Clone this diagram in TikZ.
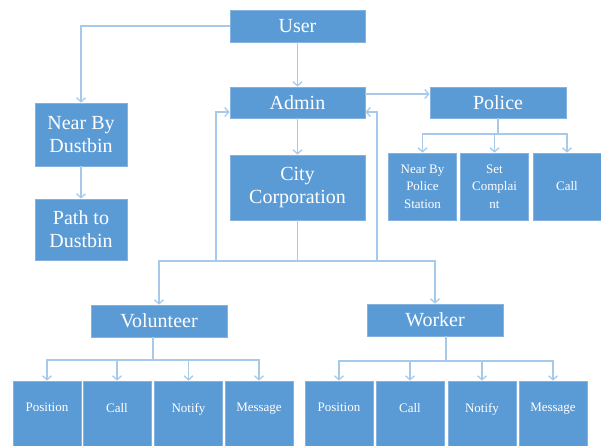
\documentclass[tikz,border=0pt]{standalone}
\usepackage{fontspec}
\setmainfont{Liberation Serif}
\usepackage{tikz}
\usetikzlibrary{arrows.meta,calc,positioning}
\definecolor{boxblue}{HTML}{5B9BD5}
\definecolor{boxedge}{HTML}{86B2E0}
\definecolor{linkblue}{HTML}{A7CAEB}
\tikzset{
  box/.style={draw=boxedge,line width=0.8pt,fill=boxblue,text=white,align=center,inner sep=0pt,font=\fontsize{20}{23}\selectfont},
  subbox/.style={box,font=\fontsize{13}{17.5}\selectfont,minimum width=68pt,minimum height=67pt},
  leaf/.style={subbox,minimum height=66pt,text depth=13pt},
  bus/.style={draw=linkblue,line width=1.3pt},
  link/.style={bus,-{Straight Barb[length=4pt,width=9pt]}},
}

\begin{document}
\begin{tikzpicture}[x=1pt,y=-1pt]
\useasboundingbox (0,0) rectangle (601,445);
% top row
\node[box,minimum width=135pt,minimum height=32pt] (user) at (297.5,26) {User};
\node[box,minimum width=135pt,minimum height=31pt] (admin) at (297.5,102.5) {Admin};
\node[box,minimum width=136pt,minimum height=31pt] (police) at (498,102.5) {Police};
\node[box,minimum width=135pt,minimum height=65pt] (city) at (297.5,187.5) {City\\Corporation};
\node[box,minimum width=92pt,minimum height=63pt] (ndust) at (81,134.5) {Near By\\Dustbin};
\node[box,minimum width=92pt,minimum height=61pt] (path) at (81,229.5) {Path to\\Dustbin};
% police side
\node[subbox] (pnear) at (422.5,186.5) {Near By\\Police\\Station};
\node[subbox] (pcompl) at (494.5,186.5) {Set\\Complai\\nt};
\node[subbox] (pcall) at (567,186.5) {Call};
% volunteer and worker
\node[box,minimum width=136pt,minimum height=32pt] (vol) at (159,321) {Volunteer};
\node[box,minimum width=136pt,minimum height=32pt] (wrk) at (435,320) {Worker};
\node[leaf] (vpos) at (47,414) {Position};
\node[leaf] (vcall) at (117,414) {Call};
\node[leaf] (vnot) at (188.5,414) {Notify};
\node[leaf] (vmsg) at (259,414) {Message};
\node[leaf] (wpos) at (339,414) {Position};
\node[leaf] (wcall) at (410,414) {Call};
\node[leaf] (wnot) at (482,414) {Notify};
\node[leaf] (wmsg) at (553,414) {Message};
% junctions
\coordinate (cj) at (297.5,261);
\coordinate (fl) at (216,261);
\coordinate (fr) at (377,261);
\coordinate (pj) at (498,134);
\coordinate (vj) at (153,360);
\coordinate (wj) at (446,361);
% connectors
\draw[link] (user.west) -| (ndust.north);
\draw[link] (user.south) -- (admin.north);
\draw[link] (ndust.south) -- (path.north);
\draw[link] (admin.south) -- (city.north);
\draw[link] ([yshift=8.5pt]admin.east) -- ([yshift=8.5pt]police.west);
\draw[bus] (city.south) -- (cj);
\draw[link] (cj) -| (vol.north);
\draw[link] (cj) -| (wrk.north);
\draw[link] (fl) |- ([yshift=-9.5pt]admin.west);
\draw[link] (fr) |- ([yshift=-9.5pt]admin.east);
\draw[bus] (police.south) -- (pj);
\draw[link] (pj) -| (pnear.north);
\draw[link] (pj) -| (pcompl.north);
\draw[link] (pj) -| (pcall.north);
\draw[bus] (vol.south -| vj) -- (vj);
\draw[link] (vj) -| (vpos.north);
\draw[link] (vj) -| (vcall.north);
\draw[link] (vj) -| (vnot.north);
\draw[link] (vj) -| (vmsg.north);
\draw[bus] (wrk.south -| wj) -- (wj);
\draw[link] (wj) -| (wpos.north);
\draw[link] (wj) -| (wcall.north);
\draw[link] (wj) -| (wnot.north);
\draw[link] (wj) -| (wmsg.north);
\end{tikzpicture}
\end{document}
